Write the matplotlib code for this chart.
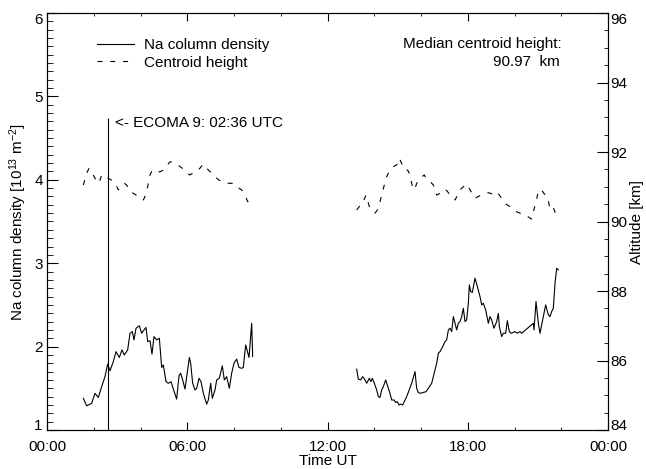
import numpy as np
import matplotlib
matplotlib.use("Agg")
import matplotlib.pyplot as plt
from matplotlib.ticker import MultipleLocator

plt.rcParams['font.family'] = ['Liberation Sans', 'DejaVu Sans']
plt.rcParams['mathtext.fontset'] = 'custom'
plt.rcParams['mathtext.rm'] = 'Liberation Sans'
plt.rcParams['mathtext.it'] = 'Liberation Sans:italic'
plt.rcParams['font.size'] = 11

# Na column density [1e13 m^-2], first night segment
na_time_1 = [1.554, 1.697, 1.839, 1.911, 2.053, 2.196, 2.339, 2.481, 2.595, 2.695,
             2.838, 2.952, 3.094, 3.208, 3.308, 3.451, 3.551, 3.651, 3.722, 3.807,
             3.950, 4.050, 4.150, 4.235, 4.307, 4.406, 4.492, 4.577, 4.692, 4.806,
             4.906, 4.977, 5.091, 5.191, 5.305, 5.405, 5.547, 5.647, 5.718, 5.804,
             5.904, 6.089, 6.146, 6.232, 6.332, 6.403, 6.503, 6.588, 6.688, 6.831,
             6.902, 7.002, 7.073, 7.187, 7.258, 7.372, 7.501, 7.586, 7.686, 7.800,
             7.900, 7.999, 8.114, 8.214, 8.328, 8.399, 8.499, 8.642, 8.756, 8.798]
na_dens_1 = [1.38, 1.29, 1.31, 1.32, 1.44, 1.39, 1.52, 1.64, 1.79, 1.71,
             1.82, 1.94, 1.87, 1.96, 1.90, 1.96, 2.16, 2.18, 2.08, 2.22,
             2.25, 2.16, 2.20, 2.23, 2.06, 2.07, 1.91, 2.12, 2.08, 2.10,
             1.75, 1.78, 1.58, 1.56, 1.58, 1.49, 1.37, 1.65, 1.68, 1.60,
             1.49, 1.87, 1.80, 1.56, 1.48, 1.50, 1.62, 1.58, 1.44, 1.31,
             1.36, 1.56, 1.38, 1.48, 1.60, 1.62, 1.77, 1.60, 1.64, 1.50,
             1.68, 1.80, 1.85, 1.75, 1.74, 1.75, 2.02, 1.87, 2.28, 1.88]

# second segment
na_time_2 = [13.248, 13.319, 13.419, 13.505, 13.605, 13.676, 13.790, 13.861, 13.918, 14.004,
             14.104, 14.175, 14.246, 14.318, 14.389, 14.489, 14.603, 14.674, 14.745, 14.845,
             14.916, 14.988, 15.059, 15.130, 15.216, 15.387, 15.601, 15.744, 15.815, 15.886,
             15.957, 16.100, 16.214, 16.314, 16.457, 16.599, 16.670, 16.742, 16.813, 16.927,
             17.027, 17.098, 17.170, 17.241, 17.312, 17.383, 17.455, 17.526, 17.597, 17.669,
             17.740, 17.811, 17.882, 17.954, 18.025, 18.068, 18.125, 18.196, 18.310, 18.410,
             18.524, 18.595, 18.666, 18.767, 18.881, 18.952, 19.023, 19.123, 19.237, 19.309,
             19.351, 19.451, 19.522, 19.622, 19.693, 19.779, 19.850, 19.950, 20.022, 20.121,
             20.235, 20.307, 20.806, 20.834, 20.920, 21.020, 21.091, 21.205, 21.333, 21.447,
             21.519, 21.590, 21.661, 21.733, 21.804, 21.875]
na_dens_2 = [1.73, 1.61, 1.60, 1.64, 1.60, 1.56, 1.62, 1.58, 1.62, 1.56,
             1.48, 1.40, 1.39, 1.48, 1.52, 1.60, 1.50, 1.44, 1.36, 1.36,
             1.33, 1.34, 1.30, 1.31, 1.30, 1.40, 1.56, 1.70, 1.50, 1.45,
             1.44, 1.45, 1.46, 1.50, 1.56, 1.72, 1.80, 1.92, 1.94, 2.00,
             2.06, 2.08, 2.20, 2.22, 2.18, 2.36, 2.28, 2.20, 2.28, 2.30,
             2.36, 2.46, 2.30, 2.32, 2.52, 2.74, 2.66, 2.65, 2.82, 2.72,
             2.60, 2.50, 2.52, 2.44, 2.28, 2.36, 2.32, 2.22, 2.30, 2.40,
             2.24, 2.12, 2.16, 2.16, 2.31, 2.18, 2.16, 2.17, 2.18, 2.16,
             2.18, 2.16, 2.28, 2.20, 2.54, 2.28, 2.16, 2.32, 2.50, 2.38,
             2.36, 2.42, 2.46, 2.76, 2.94, 2.92]

# centroid height [km]
cent_time_1 = [1.554, 1.697, 1.797, 1.982, 2.054, 2.225, 2.339, 2.510, 2.624, 2.767,
               2.909, 3.052, 3.308, 3.408, 3.551, 3.694, 3.907, 4.121, 4.193, 4.307,
               4.407, 4.506, 4.692, 4.834, 4.977, 5.262, 5.447, 5.690, 5.790, 5.975,
               6.118, 6.332, 6.474, 6.688, 6.831, 7.045, 7.187, 7.358, 7.544, 7.758,
               7.972, 8.114, 8.328, 8.471, 8.585, 8.685, 8.756]
cent_alt_1 = [91.05, 91.39, 91.53, 91.34, 91.24, 91.10, 91.34, 91.29, 91.24, 91.19,
              91.10, 90.91, 91.10, 91.05, 90.86, 90.81, 90.72, 90.62, 90.72, 91.00,
              91.34, 91.48, 91.43, 91.43, 91.48, 91.72, 91.69, 91.58, 91.53, 91.39,
              91.34, 91.43, 91.48, 91.65, 91.53, 91.39, 91.29, 91.19, 91.15, 91.10,
              91.10, 91.00, 90.91, 90.76, 90.57, 90.62, 90.72]

cent_time_2 = [13.248, 13.362, 13.462, 13.647, 13.790, 13.890, 14.032, 14.132, 14.246, 14.389,
               14.531, 14.674, 14.817, 14.959, 15.073, 15.173, 15.316, 15.43, 15.53, 15.63,
               15.72, 15.82, 15.96, 16.14, 16.24, 16.39, 16.53, 16.67, 16.81, 17.00,
               17.10, 17.31, 17.46, 17.67, 17.81, 17.95, 18.10, 18.31, 18.48, 18.67,
               18.88, 19.05, 19.24, 19.45, 19.59, 19.85, 20.09, 20.31, 20.52, 20.73,
               20.88, 21.02, 21.13, 21.28, 21.42, 21.52, 21.66, 21.80]
cent_alt_2 = [90.33, 90.43, 90.47, 90.76, 90.43, 90.33, 90.24, 90.33, 90.57, 90.95,
              91.29, 91.48, 91.58, 91.63, 91.82, 91.67, 91.48, 91.48, 91.34, 91.00,
              90.91, 91.10, 91.24, 91.34, 91.21, 91.15, 91.05, 90.76, 90.81, 90.93,
              90.89, 90.71, 90.62, 90.91, 91.00, 91.08, 90.91, 90.67, 90.73, 90.79,
              90.83, 90.79, 90.86, 90.67, 90.52, 90.41, 90.28, 90.22, 90.16, 90.07,
              90.47, 90.86, 90.93, 90.79, 90.70, 90.35, 90.41, 90.14]

ecoma_time = 2.6     # 02:36 UTC
ecoma_top = 4.74
median_height = 90.97

xtick_pos = [0, 6, 12, 18, 24]
xtick_labels = ['00:00', '06:00', '12:00', '18:00', '00:00']
left_ticks = [1, 2, 3, 4, 5, 6]
right_ticks = [84, 86, 88, 90, 92, 94, 96]


def end_labels_inside(axis):
    # IDL style: first/last tick labels pushed inside the axis range
    ticks = axis.get_major_ticks()
    for lab in (ticks[0].label1, ticks[0].label2):
        lab.set_va('baseline')
    for lab in (ticks[-1].label1, ticks[-1].label2):
        lab.set_va('top')


def main():
    fig = plt.figure(figsize=(6.46, 4.69), dpi=100)
    ax = fig.add_axes([47 / 646, 39 / 469, 561 / 646, 417 / 469])
    ax2 = ax.twinx()

    dash = (0, (4.5, 7))
    l1, = ax.plot(na_time_1, na_dens_1, color='black', lw=0.8, label='Na column density')
    ax.plot(na_time_2, na_dens_2, color='black', lw=0.8)
    l2, = ax2.plot(cent_time_1, cent_alt_1, color='black', lw=0.8, linestyle=dash,
                   label='Centroid height')
    ax2.plot(cent_time_2, cent_alt_2, color='black', lw=0.8, linestyle=dash)

    ax.vlines(ecoma_time, 1, ecoma_top, color='black', lw=0.8)
    ax.text(ecoma_time + 0.3, ecoma_top - 0.06, '<- ECOMA 9: 02:36 UTC', va='center', ha='left')

    ax.set_xlim(0, 24)
    ax.set_ylim(1, 6)
    ax2.set_ylim(84, 96)

    ax.set_xticks(xtick_pos)
    ax.set_xticklabels(xtick_labels)
    ax.xaxis.set_minor_locator(MultipleLocator(2))
    ax.set_yticks(left_ticks)
    ax.yaxis.set_minor_locator(MultipleLocator(0.1))
    ax2.set_yticks(right_ticks)
    ax2.yaxis.set_minor_locator(MultipleLocator(0.5))

    ax.tick_params(axis='x', which='both', direction='in', top=True, pad=7)
    ax.tick_params(axis='x', which='major', length=6)
    ax.tick_params(axis='x', which='minor', length=2.5)
    ax.tick_params(axis='y', which='both', direction='in', right=False, pad=3)
    ax.tick_params(axis='y', which='major', length=8)
    ax.tick_params(axis='y', which='minor', length=4.5)
    ax2.tick_params(axis='y', which='both', direction='in', pad=1.5)
    ax2.tick_params(axis='y', which='major', length=8)
    ax2.tick_params(axis='y', which='minor', length=3)

    end_labels_inside(ax.yaxis)
    end_labels_inside(ax2.yaxis)

    for a in (ax, ax2):
        for s in a.spines.values():
            s.set_linewidth(0.8)

    ax.set_xlabel('Time UT', labelpad=0)
    ax.set_ylabel('Na column density [10$^{13}$ m$^{-2}$]', labelpad=4)
    ax2.set_ylabel('Altitude [km]', labelpad=2)

    ax.legend(handles=[l1, l2], frameon=False, loc='upper left',
              bbox_to_anchor=(0.078, 0.955), handlelength=2.4, handletextpad=0.7,
              labelspacing=0.25, borderaxespad=0)

    ax.text(0.918, 0.9256, 'Median centroid height:', transform=ax.transAxes,
            ha='right', va='center')
    ax.text(0.9134, 0.8826, f'{median_height:.2f}  km', transform=ax.transAxes,
            ha='right', va='center')

    fig.savefig('out.png', dpi=100)


if __name__ == "__main__":
    main()
